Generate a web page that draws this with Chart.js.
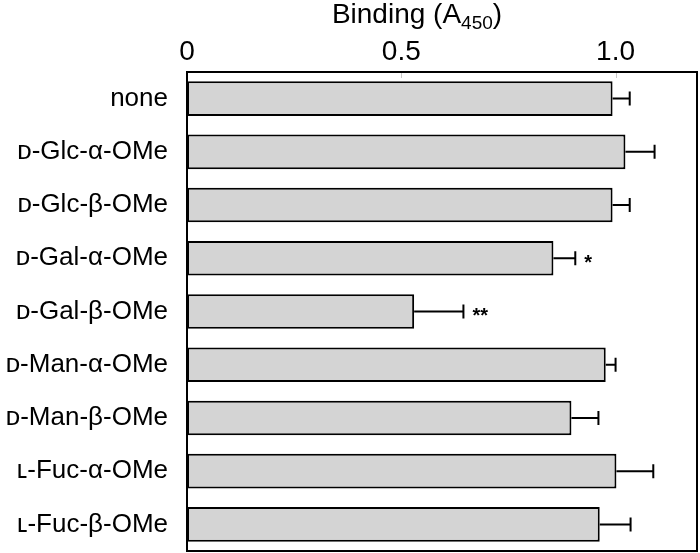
<!DOCTYPE html>
<html>
<head>
<meta charset="utf-8">
<script src="https://cdn.jsdelivr.net/npm/chart.js@4/dist/chart.umd.min.js"></script>
<style>
  body { margin: 0; background: #fff; }
</style>
</head>
<body>
<canvas id="binding-chart" width="700" height="553"></canvas>
<script>
const sugars = ['none', 'ᴅ-Glc-α-OMe', 'ᴅ-Glc-β-OMe', 'ᴅ-Gal-α-OMe', 'ᴅ-Gal-β-OMe',
                'ᴅ-Man-α-OMe', 'ᴅ-Man-β-OMe', 'ʟ-Fuc-α-OMe', 'ʟ-Fuc-β-OMe'];
const binding = [0.993, 1.023, 0.993, 0.855, 0.530, 0.977, 0.897, 1.002, 0.963];
const errors  = [0.040, 0.068, 0.040, 0.051, 0.115, 0.023, 0.063, 0.086, 0.072];
const marks   = ['', '', '', '*', '**', '', '', '', ''];
const tickValues = [0, 0.5, 1.0];

const FONT = "'Liberation Sans', Arial, sans-serif";

// error bars + significance stars
const errorBars = {
    id: 'errorBars',
    afterDatasetsDraw(chart) {
        const ctx = chart.ctx, xs = chart.scales.x;
        const meta = chart.getDatasetMeta(0);
        ctx.save();
        ctx.strokeStyle = '#000';
        ctx.lineWidth = 2;
        meta.data.forEach((bar, i) => {
            const x0 = xs.getPixelForValue(binding[i]);
            const x1 = xs.getPixelForValue(binding[i] + errors[i]);
            const y = bar.y;
            ctx.beginPath();
            ctx.moveTo(x0, y); ctx.lineTo(x1, y);
            ctx.moveTo(x1, y - 7); ctx.lineTo(x1, y + 7);
            ctx.stroke();
            if (marks[i]) {
                ctx.fillStyle = '#000';
                ctx.font = 'bold 20px ' + FONT;
                ctx.textBaseline = 'middle';
                ctx.textAlign = 'left';
                ctx.fillText(marks[i], x1 + 9, y + 5);
            }
        });
        ctx.restore();
    }
};

// frame around the plot, small inner ticks, title with subscript
const frameTitle = {
    id: 'frameTitle',
    afterDraw(chart) {
        const ctx = chart.ctx, a = chart.chartArea, xs = chart.scales.x;
        ctx.save();
        ctx.strokeStyle = '#c8c8c8';
        ctx.lineWidth = 1;
        tickValues.slice(1).forEach(v => {
            const x = Math.round(xs.getPixelForValue(v)) + 0.5;
            ctx.beginPath();
            ctx.moveTo(x, a.top); ctx.lineTo(x, a.top + 6);
            ctx.stroke();
        });

        ctx.strokeStyle = '#000';
        ctx.lineWidth = 2;
        ctx.strokeRect(a.left, a.top, a.right - a.left, a.bottom - a.top);

        ctx.fillStyle = '#000';
        ctx.textBaseline = 'alphabetic';
        ctx.textAlign = 'left';
        const main = 'Binding (A', sub = '450', tail = ')';
        ctx.font = '28px ' + FONT;
        const wMain = ctx.measureText(main).width, wTail = ctx.measureText(tail).width;
        ctx.font = '19px ' + FONT;
        const wSub = ctx.measureText(sub).width;
        let x = 417 - (wMain + wSub + wTail) / 2;
        ctx.font = '28px ' + FONT;
        ctx.fillText(main, x, 23);
        ctx.font = '19px ' + FONT;
        ctx.fillText(sub, x + wMain, 29);
        ctx.font = '28px ' + FONT;
        ctx.fillText(tail, x + wMain + wSub, 23);
        ctx.restore();
    }
};

new Chart(document.getElementById('binding-chart'), {
    type: 'bar',
    data: {
        labels: sugars,
        datasets: [{
            data: binding,
            backgroundColor: '#d4d4d4',
            borderColor: '#000',
            borderWidth: 2,
            borderSkipped: false,
            barPercentage: 0.65,
            categoryPercentage: 1.0
        }]
    },
    options: {
        indexAxis: 'y',
        responsive: false,
        animation: false,
        layout: { padding: { top: 0, right: 3, bottom: 2, left: 0 } },
        plugins: {
            legend: { display: false },
            tooltip: { enabled: false }
        },
        scales: {
            x: {
                type: 'linear',
                position: 'top',
                min: 0,
                max: 1.19,
                grid: { display: false, drawTicks: false, tickLength: 0 },
                border: { display: false },
                afterBuildTicks: (scale) => { scale.ticks = tickValues.map(v => ({ value: v })); },
                afterFit: (scale) => {
                    scale.height = 72;
                    scale.paddingLeft = 0;
                    scale.paddingRight = 0;
                },
                ticks: {
                    color: '#000',
                    padding: 3,
                    maxRotation: 0,
                    font: { family: FONT, size: 28 },
                    callback: (v) => v === 0 ? '0' : v.toFixed(1)
                }
            },
            y: {
                grid: { display: false, drawTicks: false, tickLength: 0 },
                border: { display: false },
                afterFit: (scale) => {
                    scale.width = 187;
                    scale.paddingTop = 0;
                    scale.paddingBottom = 0;
                },
                ticks: {
                    color: '#000',
                    padding: 19,
                    font: { family: FONT, size: 26 }
                }
            }
        }
    },
    plugins: [errorBars, frameTitle]
});
</script>
</body>
</html>
